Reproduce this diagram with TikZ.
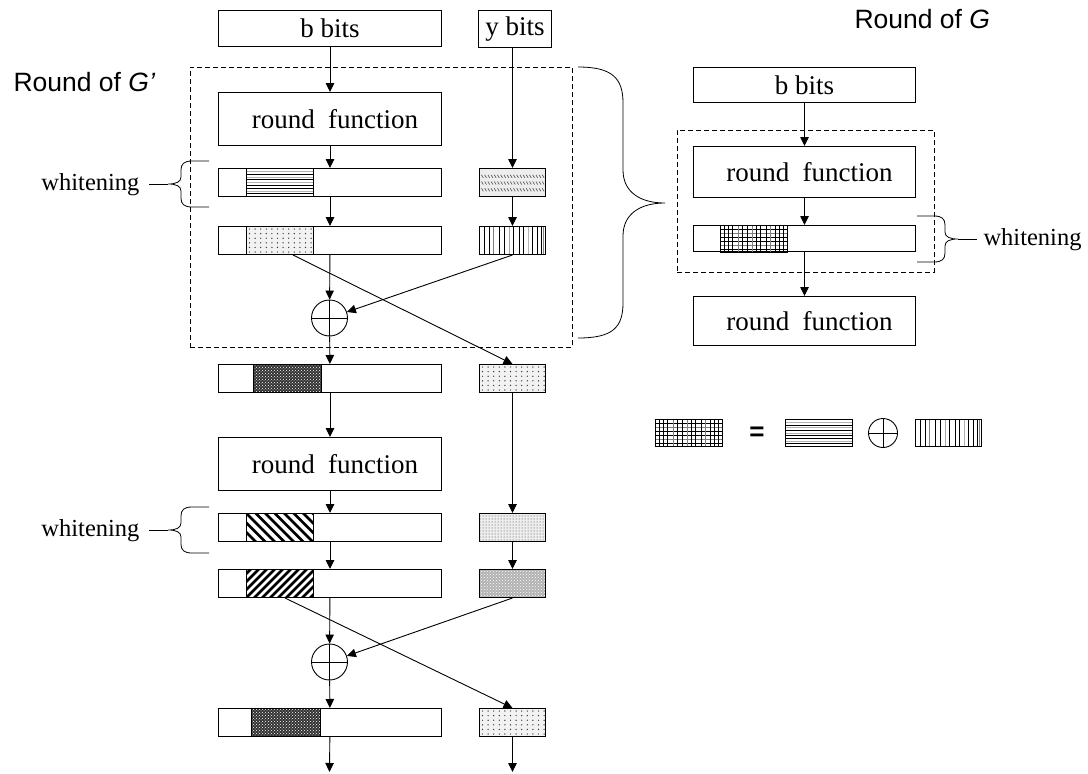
\documentclass[tikz,border=0pt]{standalone}
\usepackage{fontspec}
\setmainfont{Liberation Serif}
\newfontfamily\helv{Liberation Sans}
\usetikzlibrary{arrows.meta,calc,patterns}

\newcommand{\ppb}{path picture bounding box}

\tikzset{
  bx/.style={draw, line width=1pt, rectangle, inner sep=0pt, anchor=north west,
    font=\fontsize{27}{30}\selectfont},
  bar/.style={bx, minimum width=223pt, minimum height=28pt},
  pat/.style={draw, line width=1pt, rectangle, inner sep=0pt, anchor=north west,
    minimum width=67pt, minimum height=28pt},
  sb/.style={pat, minimum width=66pt},
  arr/.style={-{Triangle[length=9pt,width=8.5pt]}, line width=0.9pt},
  dashbox/.style={draw, dash pattern=on 5pt off 3pt, line width=0.8pt, inner sep=0pt,
    anchor=north west},
  xor/.style={draw, circle, line width=0.9pt, minimum size=36pt, inner sep=0pt,
    path picture={\draw[line width=0.8pt] (\ppb.north) -- (\ppb.south);
                  \draw[line width=0.8pt] (\ppb.west) -- (\ppb.east);}},
  lbl/.style={font=\fontsize{24.5}{28}\selectfont},
  ttl/.style={font=\helv\fontsize{26.5}{30}\selectfont, anchor=west},
  % fill patterns of the key sections
  hpat/.style={path picture={
    \foreach \t/\c in {0.1/gray!60,0.2/black,0.3/gray!60,0.4/black,0.5/gray!60,0.6/black,0.7/black,0.8/gray!60,0.9/black}
      \draw[\c,line width=0.7pt] ($(\ppb.north west)!\t!(\ppb.south west)$) -- ($(\ppb.north east)!\t!(\ppb.south east)$);}},
  vpat/.style={path picture={
    \foreach \t/\c in {0.08/black,0.15/black,0.21/gray,0.3/black,0.37/black,0.45/gray!70,0.52/black,0.6/black,0.66/black,0.74/gray!60,0.8/black,0.87/black,0.93/black,0.97/gray}
      \draw[\c,line width=0.7pt] ($(\ppb.north west)!\t!(\ppb.north east)$) -- ($(\ppb.south west)!\t!(\ppb.south east)$);}},
  gridpat/.style={path picture={
    \foreach \t/\c in {0.15/black,0.3/gray,0.45/black,0.6/black,0.75/gray,0.88/black}
      \draw[\c,line width=0.7pt] ($(\ppb.north west)!\t!(\ppb.south west)$) -- ($(\ppb.north east)!\t!(\ppb.south east)$);
    \foreach \t/\c in {0.06/black,0.12/black,0.18/black,0.26/gray,0.33/black,0.4/black,0.47/gray,0.54/black,0.6/black,0.68/black,0.75/gray,0.82/black,0.88/black,0.94/black}
      \draw[\c,line width=0.7pt] ($(\ppb.north west)!\t!(\ppb.north east)$) -- ($(\ppb.south west)!\t!(\ppb.south east)$);}},
  dotpat/.style={path picture={
    \fill[gray!10] (\ppb.south west) rectangle (\ppb.north east);
    \foreach \i in {0,...,11} \foreach \j in {0,...,5}
      \fill[black!80] ($(\ppb.north west)+(3pt+\i*5.6pt,-2.5pt-\j*4.6pt)$) circle (0.7pt);}},
  darkpat/.style={path picture={
    \fill[black!80] (\ppb.south west) rectangle (\ppb.north east);
    \fill[pattern=crosshatch dots, pattern color=white] (\ppb.south west) rectangle (\ppb.north east);}},
  wavepat/.style={path picture={
    \fill[gray!14] (\ppb.south west) rectangle (\ppb.north east);
    \foreach \t in {0.28,0.52,0.76} \foreach \i in {0,...,19}
      \draw[black!70, line width=0.6pt]
        ($(\ppb.north west)!\t!(\ppb.south west)+(2pt+\i*3.2pt,1.5pt)$) -- ++(1.8pt,-3pt);}},
  specklepat/.style={path picture={
    \fill[gray!14] (\ppb.south west) rectangle (\ppb.north east);
    \fill[pattern=dots, pattern color=black!75] (\ppb.south west) rectangle (\ppb.north east);}},
  densepat/.style={path picture={
    \fill[gray!60] (\ppb.south west) rectangle (\ppb.north east);
    \fill[pattern=crosshatch dots, pattern color=white] (\ppb.south west) rectangle (\ppb.north east);}},
  backpat/.style={path picture={
    \foreach \k in {-4,...,9}
      \draw[line width=2.8pt] ($(\ppb.north west)+(\k*9.5pt-3pt,3pt)$) -- ++(36pt,-36pt);}},
  fwdpat/.style={path picture={
    \foreach \k in {-4,...,10}
      \draw[line width=2.6pt] ($(\ppb.south west)+(\k*8pt-3pt,-3pt)$) -- ++(36pt,36pt);}},
  % curly brace opening to the right, origin at its upper end
  wbrace/.pic={
    \draw[line width=0.8pt] (0,0) -- (-17,0) .. controls (-25,0) and (-28,3) .. (-28,9) -- (-28,16)
      .. controls (-28,21) and (-33,23) .. (-41,23) .. controls (-33,23) and (-28,25) .. (-28,30)
      -- (-28,37) .. controls (-28,43) and (-25,46) .. (-17,46) -- (0,46);
    \draw[line width=0.8pt] (-41,23) -- (-60,23);}
}

\begin{document}
\begin{tikzpicture}[x=1pt,y=-1pt]
\path[use as bounding box] (0,0) rectangle (1088,774);

% ---------- one round of G' ----------
\node[dashbox, minimum width=382pt, minimum height=280pt] (gbox) at (190,67) {};
\node[ttl] (tgp) at (10,82) {Round of \textit{G’}};

\node[bx, minimum width=223pt, minimum height=36pt] (bb) at (218,10) {b bits};
\node[bx, minimum width=73pt, minimum height=37pt] (yb) at (478,10) {y bits};
\node[bx, minimum width=223pt, minimum height=53pt] (rf1) at (218,92) {\hspace*{10pt}round\ \ function};

\node[bar] (bar1) at (218,168) {};
\node[pat, hpat] (p1) at (246,168) {};
\node[sb, wavepat] (s1) at (479,168) {};

\node[bar] (bar2) at (218,226) {};
\node[pat, dotpat] (p2) at (246,226) {};
\node[sb, vpat] (s2) at (479,226) {};

\node[xor] (x1) at (329.5,318) {};

\node[bar] (bar3) at (218,364) {};
\node[pat, darkpat, minimum width=68pt] (p3) at (253,364) {};
\node[sb, dotpat] (s3) at (479,364) {};

\node[bx, minimum width=223pt, minimum height=53pt] (rf2) at (218,437) {\hspace*{10pt}round\ \ function};

\node[bar] (bar4) at (218,513) {};
\node[pat, backpat] (p4) at (246,513) {};
\node[sb, specklepat] (s4) at (479,513) {};

\node[bar] (bar5) at (218,569) {};
\node[pat, fwdpat] (p5) at (246,569) {};
\node[sb, densepat] (s5) at (479,569) {};

\node[xor] (x2) at (329.5,662) {};

\node[bar] (bar6) at (218,708) {};
\node[pat, darkpat, minimum width=69pt] (p6) at (251,708) {};
\node[sb, dotpat] (s6) at (479,708) {};

\coordinate (e1) at (329.5,772);
\coordinate (e2) at (s6.south |- e1);

% whitening braces
\pic at (209,161) {wbrace};
\pic at (209,507) {wbrace};
\node[lbl, anchor=east] (wl1) at (143,185) {whitening};
\node[lbl, anchor=east] (wl2) at (143,531) {whitening};

% data flow, left column
\draw[arr] (bb) -- (rf1);
\draw[arr] (rf1) -- (bar1);
\draw[arr] (bar1) -- (bar2);
\draw[arr] (bar2) -- (x1);
\draw[arr] (x1) -- (bar3);
\draw[arr] (bar3) -- (rf2);
\draw[arr] (rf2) -- (bar4);
\draw[arr] (bar4) -- (bar5);
\draw[arr] (bar5) -- (x2);
\draw[arr] (x2) -- (bar6);
\draw[arr] (bar6) -- (e1);

% data flow, right column and crossings
\draw[arr] (s1.north |- yb.south) -- (s1.north);
\draw[arr] (s1) -- (s2);
\draw[arr] (s2.south) -- (x1);
\draw[arr] ($(p2.south)+(13pt,0)$) -- (s3.north);
\draw[arr] (s3) -- (s4);
\draw[arr] (s4) -- (s5);
\draw[arr] (s5.south) -- (x2);
\draw[arr] ($(p5.south)+(5pt,0)$) -- (s6.north);
\draw[arr] (s6) -- (e2);

% brace tying the G' round to the G round
\draw[line width=0.8pt] (578,67) .. controls (612,67) and (623,78) .. (623,103) -- (623,170)
  .. controls (623,192) and (640,203) .. (665,203) .. controls (640,203) and (623,214) .. (623,236)
  -- (623,303) .. controls (623,328) and (612,338) .. (578,338);

% ---------- one round of G ----------
\node[ttl] (tg) at (851,19) {Round of \textit{G}};
\node[dashbox, minimum width=257pt, minimum height=142pt] (rbox) at (677,130) {};
\node[bx, minimum width=222pt, minimum height=35pt] (rbb) at (693,67) {b bits};
\node[bx, minimum width=222pt, minimum height=51pt] (rrf1) at (693,146) {\hspace*{10pt}round\ \ function};
\node[bx, minimum width=222pt, minimum height=26pt] (rbar) at (693,225) {};
\node[pat, gridpat, minimum height=27pt] (rp) at (720,225) {};
\node[bx, minimum width=222pt, minimum height=49pt] (rrf2) at (693,296) {\hspace*{10pt}round\ \ function};

\draw[arr] (rbb) -- (rrf1);
\draw[arr] (rrf1) -- (rbar);
\draw[arr] (rbar) -- (rrf2);

\pic[xscale=-1] at (917,216) {wbrace};
\node[lbl, anchor=west] (wr) at (980,240) {whitening};

% ---------- key ----------
\node[pat, gridpat, minimum height=27pt] (k1) at (655,419) {};
\node[font=\helv\bfseries\fontsize{26}{30}\selectfont] (keq) at (757,434) {=};
\node[pat, hpat, minimum height=27pt] (k2) at (785,419) {};
\node[draw, circle, line width=0.9pt, minimum size=29pt, inner sep=0pt,
  path picture={\draw[line width=0.8pt] (\ppb.north) -- (\ppb.south);
                \draw[line width=0.8pt] (\ppb.west) -- (\ppb.east);}] (kx) at (883,433) {};
\node[sb, vpat, minimum height=27pt] (k3) at (915,419) {};
\end{tikzpicture}
\end{document}
